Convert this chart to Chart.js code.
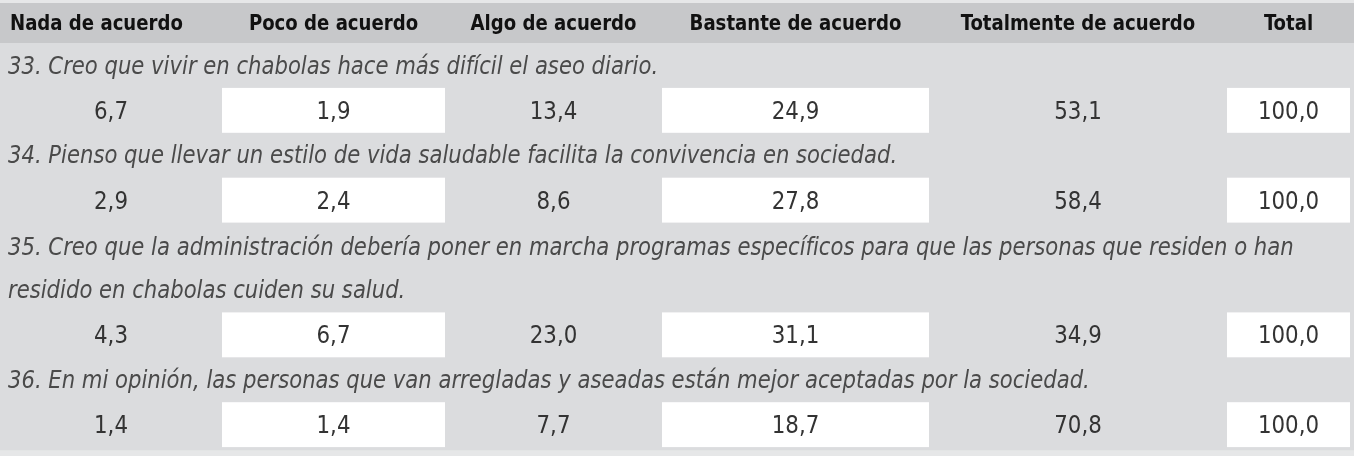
<!DOCTYPE html>
<html lang="es">
<head>
<meta charset="utf-8">
<script src="https://cdn.jsdelivr.net/npm/chart.js@4.4.1/dist/chart.umd.min.js"></script>
<style>
    html, body { margin: 0; padding: 0; background: #ffffff; }
    #wrap { width: 1354px; height: 456px; position: relative; }
</style>
</head>
<body>
<div id="wrap"><canvas id="tablaChart"></canvas></div>
<script>
// --- datos ---
const columns = ['Nada de acuerdo', 'Poco de acuerdo', 'Algo de acuerdo', 'Bastante de acuerdo', 'Totalmente de acuerdo', 'Total'];
const questions = [
    ['33. Creo que vivir en chabolas hace más difícil el aseo diario.'],
    ['34. Pienso que llevar un estilo de vida saludable facilita la convivencia en sociedad.'],
    ['35. Creo que la administración debería poner en marcha programas específicos para que las personas que residen o han',
     'residido en chabolas cuiden su salud.'],
    ['36. En mi opinión, las personas que van arregladas y aseadas están mejor aceptadas por la sociedad.']
];
const nada = [6.7, 2.9, 4.3, 1.4];
const poco = [1.9, 2.4, 6.7, 1.4];
const algo = [13.4, 8.6, 23.0, 7.7];
const bastante = [24.9, 27.8, 31.1, 18.7];
const totalmente = [53.1, 58.4, 34.9, 70.8];
const total = [100.0, 100.0, 100.0, 100.0];
const series = [nada, poco, algo, bastante, totalmente, total];

// --- maquetación ---
const colEdges = [0, 222, 445, 662, 929, 1227, 1350]; // bordes de columna
const rowTop = 43;    // fin de la cabecera
const rowH = 44.9;    // alto de fila
const headerTop = 3;
const FONT = "'DejaVu Sans Condensed', 'Liberation Sans Narrow', sans-serif";

// filas de cada pregunta y de sus valores
const qRows = [];
const vRows = [];
let r = 0;
questions.forEach(lines => {
    qRows.push(r);
    r += lines.length;
    vRows.push(r);
    r += 1;
});

const fmt = v => v.toFixed(1).replace('.', ',');
const colCenter = i => (colEdges[i] + colEdges[i + 1]) / 2;

// texto estrechado en horizontal (la fuente original es condensada)
function narrowText(ctx, text, px, py, sx) {
    ctx.save();
    ctx.translate(px, py);
    ctx.scale(sx, 1);
    ctx.fillText(text, 0, 0);
    ctx.restore();
}

const tablePlugin = {
    id: 'tabla',
    beforeDatasetsDraw(chart) {
        const { ctx, scales: { x, y }, chartArea } = chart;
        ctx.save();
        // fondo
        ctx.fillStyle = '#e6e7e8';
        ctx.fillRect(chartArea.left, chartArea.top, chartArea.width, chartArea.height);
        ctx.fillStyle = '#dbdcde';
        ctx.fillRect(chartArea.left, y.getPixelForValue(0), chartArea.width, y.getPixelForValue(r + 0.07) - y.getPixelForValue(0));
        // cabecera
        const hTop = y.getPixelForValue(-(rowTop - headerTop) / rowH);
        const hBot = y.getPixelForValue(0);
        ctx.fillStyle = '#c7c8ca';
        ctx.fillRect(chartArea.left, hTop, chartArea.width, hBot - hTop);

        // celdas blancas (columnas alternas)
        ctx.fillStyle = '#ffffff';
        vRows.forEach(row => {
            const top = y.getPixelForValue(row);
            const bot = y.getPixelForValue(row + 1);
            for (let i = 1; i < columns.length; i += 2) {
                const left = x.getPixelForValue(colEdges[i]);
                const right = x.getPixelForValue(colEdges[i + 1]);
                ctx.fillRect(left, top, right - left, bot - top);
            }
        });

        // textos de cabecera
        ctx.font = "bold 22px " + FONT;
        ctx.fillStyle = '#111111';
        ctx.textBaseline = 'middle';
        const hMid = (hTop + hBot) / 2 + 1;
        columns.forEach((c, i) => {
            if (i === 0) {
                ctx.textAlign = 'left';
                narrowText(ctx, c, x.getPixelForValue(10), hMid, 0.915);
            } else {
                ctx.textAlign = 'center';
                narrowText(ctx, c, x.getPixelForValue(colCenter(i)), hMid, 0.915);
            }
        });

        // enunciados
        ctx.font = "italic 24px " + FONT;
        ctx.fillStyle = '#4a4a4a';
        ctx.textAlign = 'left';
        questions.forEach((lines, q) => {
            lines.forEach((line, k) => {
                const off = lines.length > 1 && k === 0 ? 4 : 2;
                narrowText(ctx, line, x.getPixelForValue(8), y.getPixelForValue(qRows[q] + k + 0.5) + off, 0.98);
            });
        });
        ctx.restore();
    },
    afterDatasetsDraw(chart) {
        const { ctx } = chart;
        ctx.save();
        ctx.font = "25px " + FONT;
        ctx.fillStyle = '#333333';
        ctx.textAlign = 'center';
        ctx.textBaseline = 'middle';
        chart.data.datasets.forEach((ds, i) => {
            const meta = chart.getDatasetMeta(i);
            meta.data.forEach((pt, k) => {
                narrowText(ctx, fmt(series[i][k]), pt.x, pt.y + 2, 0.95);
            });
        });
        ctx.restore();
    }
};

new Chart(document.getElementById('tablaChart'), {
    type: 'scatter',
    data: {
        datasets: columns.map((c, i) => ({
            label: c,
            data: series[i].map((v, k) => ({ x: colCenter(i), y: vRows[k] + 0.5 })),
            pointRadius: 0,
            pointHoverRadius: 0
        }))
    },
    options: {
        responsive: true,
        maintainAspectRatio: false,
        animation: false,
        layout: { padding: 0 },
        plugins: {
            legend: { display: false },
            tooltip: { enabled: false }
        },
        scales: {
            x: { type: 'linear', display: false, min: 0, max: 1354 },
            y: {
                type: 'linear',
                display: false,
                reverse: true,
                min: -rowTop / rowH,
                max: (456 - rowTop) / rowH
            }
        }
    },
    plugins: [tablePlugin]
});
</script>
</body>
</html>
